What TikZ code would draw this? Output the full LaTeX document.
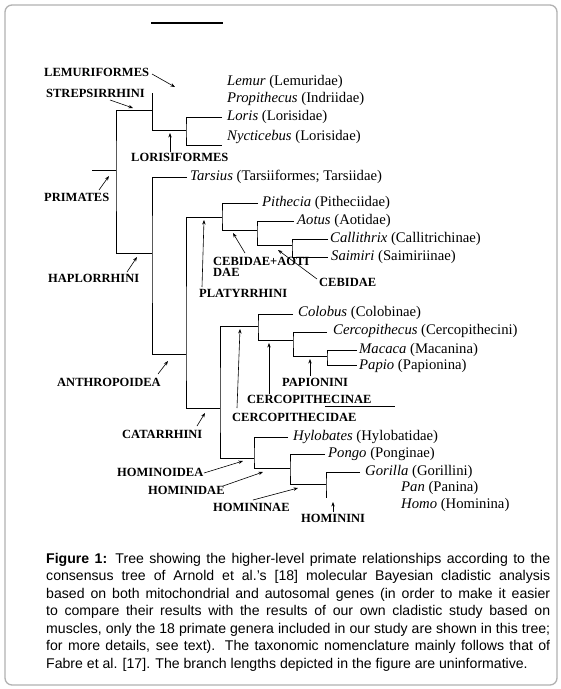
\documentclass[tikz,border=0pt]{standalone}
\usepackage{fontspec}
\setmainfont{Liberation Serif}
\newfontfamily\capfont{Liberation Sans}
\usetikzlibrary{arrows.meta}
\tikzset{
  branch/.style={line width=0.9pt},
  pointer/.style={line width=0.6pt,-{Stealth[length=4.5pt,width=3.4pt]}},
  taxon/.style={anchor=west,inner sep=0pt,font=\fontsize{14.7}{17}\selectfont},
  clade/.style={anchor=west,inner sep=0pt,font=\fontsize{12.5}{14}\selectfont\bfseries},
  frame/.style={draw=black!30,line width=1.3pt,rounded corners=7pt}
}
\begin{document}
\begin{tikzpicture}[x=1pt,y=-1pt]
\useasboundingbox (0,0) rectangle (561,689);
\fill[white] (0,0) rectangle (561,689);
\draw[frame] (5,5) rectangle (557,685);

% top bar
\coordinate (barL) at (151,23);
\coordinate (barR) at (223,23);
\draw[line width=2.2pt] (barL) -- (barR);

% ---------- tree coordinates ----------
\coordinate (strTop) at (152,93);
\coordinate (strIn) at (152,110);
\coordinate (strBot) at (152,130);
\coordinate (lorNode) at (186,130);
\coordinate (lorisEnd) at (222,117);
\coordinate (nyctEnd) at (222,145);
\coordinate (rootStub) at (92,170);
\coordinate (rootNode) at (116,170);
\coordinate (hapIn) at (152,253);
\coordinate (tarsEnd) at (187,177);
\coordinate (anthIn) at (186,354);
\coordinate (platIn) at (222,217);
\coordinate (catIn) at (220,408);
\coordinate (pithEnd) at (258,203);
\coordinate (cebaoIn) at (257,230);
\coordinate (aotEnd) at (294,221);
\coordinate (cebIn) at (292,245);
\coordinate (callEnd) at (328,239);
\coordinate (saimEnd) at (328,257);
\coordinate (cercIn) at (258,326);
\coordinate (homIn) at (254,458);
\coordinate (colEnd) at (293,314);
\coordinate (cinIn) at (293,340);
\coordinate (cerEnd) at (327,332);
\coordinate (papIn) at (327,356);
\coordinate (macEnd) at (357,350);
\coordinate (papEnd) at (357,365);
\coordinate (hylEnd) at (288,437);
\coordinate (hidIn) at (290,468);
\coordinate (pongEnd) at (325,454);
\coordinate (hinIn) at (326,484);
\coordinate (gorEnd) at (360,472);
\coordinate (hinBot) at (326,498);
\coordinate (strayL) at (325,406);
\coordinate (strayR) at (395,406);

% ---------- branches ----------
\draw[branch] (strTop) -- (strBot) -- (lorNode);
\draw[branch] (lorisEnd) -| (lorNode) |- (nyctEnd);
\draw[branch] (rootStub) -- (rootNode);
\draw[branch] (strIn) -| (rootNode) |- (hapIn);
\draw[branch] (tarsEnd) -| (hapIn) |- (anthIn);
\draw[branch] (platIn) -| (anthIn) |- (catIn);
\draw[branch] (pithEnd) -| (platIn) |- (cebaoIn);
\draw[branch] (aotEnd) -| (cebaoIn) |- (cebIn);
\draw[branch] (callEnd) -| (cebIn) |- (saimEnd);
\draw[branch] (cercIn) -| (catIn) |- (homIn);
\draw[branch] (colEnd) -| (cercIn) |- (cinIn);
\draw[branch] (cerEnd) -| (cinIn) |- (papIn);
\draw[branch] (macEnd) -| (papIn) |- (papEnd);
\draw[branch] (hylEnd) -| (homIn) |- (hidIn);
\draw[branch] (pongEnd) -| (hidIn) |- (hinIn);
\draw[branch] (gorEnd) -| (hinIn) -- (hinBot);
\draw[line width=0.8pt] (strayL) -- (strayR);

% ---------- taxa ----------
\node[taxon] (lemur) at (227,82) {\textit{Lemur} (Lemuridae)};
\node[taxon] (propi) at (227,99) {\textit{Propithecus} (Indriidae)};
\node[taxon] (loris) at (227,117) {\textit{Loris} (Lorisidae)};
\node[taxon] (nycti) at (227,137) {\textit{Nycticebus} (Lorisidae)};
\node[taxon] (tarsi) at (190,177) {\textit{Tarsius} (Tarsiiformes; Tarsiidae)};
\node[taxon] (pithe) at (262,203) {\textit{Pithecia} (Pitheciidae)};
\node[taxon] (aotus) at (297,221) {\textit{Aotus} (Aotidae)};
\node[taxon] (calli) at (330,239) {\textit{Callithrix} (Callitrichinae)};
\node[taxon] (saimi) at (331,257) {\textit{Saimiri} (Saimiriinae)};
\node[taxon] (colob) at (298,313) {\textit{Colobus} (Colobinae)};
\node[taxon] (cerco) at (333,331) {\textit{Cercopithecus} (Cercopithecini)};
\node[taxon] (macac) at (359,350) {\textit{Macaca} (Macanina)};
\node[taxon] (papio) at (359,366) {\textit{Papio} (Papionina)};
\node[taxon] (hylob) at (293,437) {\textit{Hylobates} (Hylobatidae)};
\node[taxon] (pongo) at (328,454) {\textit{Pongo} (Ponginae)};
\node[taxon] (goril) at (365,472) {\textit{Gorilla} (Gorillini)};
\node[taxon] (pan) at (401,488) {\textit{Pan} (Panina)};
\node[taxon] (homo) at (401,505) {\textit{Homo} (Hominina)};

% ---------- clade labels ----------
\node[clade] (lemf) at (44,72) {LEMURIFORMES};
\node[clade] (strep) at (46,93) {STREPSIRRHINI};
\node[clade] (lorf) at (131,157) {LORISIFORMES};
\node[clade] (prim) at (44,197) {PRIMATES};
\node[clade] (haplo) at (48,278) {HAPLORRHINI};
\node[clade] (cebao) at (213,261) {CEBIDAE+AOTI};
\node[clade] (cebao2) at (213,272) {DAE};
\node[clade] (cebid) at (319,282) {CEBIDAE};
\node[clade] (platy) at (199,293) {PLATYRRHINI};
\node[clade] (anthr) at (57,382) {ANTHROPOIDEA};
\node[clade] (papni) at (282,382) {PAPIONINI};
\node[clade] (cinae) at (247,399) {CERCOPITHECINAE};
\node[clade] (cidae) at (232,417) {CERCOPITHECIDAE};
\node[clade] (catar) at (122,434) {CATARRHINI};
\node[clade] (hmoid) at (117,472) {HOMINOIDEA};
\node[clade] (hmdae) at (148,490) {HOMINIDAE};
\node[clade] (hmnae) at (213,507) {HOMININAE};
\node[clade] (hmini) at (301,518) {HOMININI};

% ---------- pointer arrows ----------
\coordinate (aLemA) at (152,74);   \coordinate (aLemB) at (175,87);
\coordinate (aStrA) at (110,100);  \coordinate (aStrB) at (133,108);
\coordinate (aLorA) at (170,152);  \coordinate (aLorB) at (170,133);
\coordinate (aPriA) at (99,190);   \coordinate (aPriB) at (109,176);
\coordinate (aHapA) at (127,272);  \coordinate (aHapB) at (137,257);
\coordinate (aCAA) at (245,253);   \coordinate (aCAB) at (233,233);
\coordinate (aCebA) at (317,279);  \coordinate (aCebB) at (278,250);
\coordinate (aPlaA) at (202,287);  \coordinate (aPlaB) at (204,220);
\coordinate (aAntA) at (158,374);  \coordinate (aAntB) at (168,361);
\coordinate (aCidA) at (237,408);  \coordinate (aCidB) at (240,329);
\coordinate (aCinA) at (269,394);  \coordinate (aCinB) at (269,343);
\coordinate (aPapA) at (310,376);  \coordinate (aPapB) at (310,359);
\coordinate (aCatA) at (197,426);  \coordinate (aCatB) at (205,413);
\coordinate (aHoiA) at (204,473);  \coordinate (aHoiB) at (243,461);
\coordinate (aHdaA) at (223,486);  \coordinate (aHdaB) at (263,472);
\coordinate (aHnaA) at (253,500);  \coordinate (aHnaB) at (298,488);
\coordinate (aHniA) at (333,512);  \coordinate (aHniB) at (333,502);
\foreach \a/\b in {aLemA/aLemB,aStrA/aStrB,aLorA/aLorB,aPriA/aPriB,aHapA/aHapB,
  aCAA/aCAB,aCebA/aCebB,aPlaA/aPlaB,aAntA/aAntB,aCidA/aCidB,aCinA/aCinB,
  aPapA/aPapB,aCatA/aCatB,aHoiA/aHoiB,aHdaA/aHdaB,aHnaA/aHnaB,aHniA/aHniB}
  \draw[pointer] (\a) -- (\b);

% ---------- caption ----------
\node[anchor=north west,inner sep=0pt,text width=504pt,align=justify,
  font=\capfont\fontsize{14.1}{17.5}\selectfont] (caption) at (46,553)
{\textbf{Figure 1:} Tree showing the higher-level primate relationships according to the\linebreak
consensus tree of Arnold et al.’s [18] molecular Bayesian cladistic analysis\linebreak
based on both mitochondrial and autosomal genes (in order to make it easier\linebreak
to compare their results with the results of our own cladistic study based on\linebreak
muscles, only the 18 primate genera included in our study are shown in this tree;\linebreak
for more details, see text). The taxonomic nomenclature mainly follows that of\linebreak
Fabre et al. [17]. The branch lengths depicted in the figure are uninformative.};
\end{tikzpicture}
\end{document}
